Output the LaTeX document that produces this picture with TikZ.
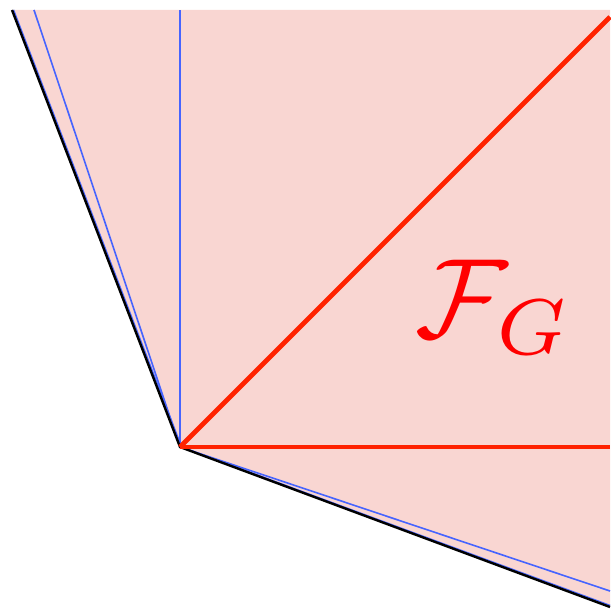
\documentclass[tikz,border=0pt]{standalone}
\usepackage{amsmath}
\usepackage{graphicx}
\definecolor{pinkfill}{RGB}{249,214,210}
\definecolor{redline}{RGB}{255,34,0}
\definecolor{blueline}{RGB}{70,100,255}
\tikzset{
  redray/.style={draw=redline, line width=4.8pt},
  blueray/.style={draw=blueline, line width=1.6pt},
  blackray/.style={draw=black, line width=2.4pt},
}
\begin{document}
\begin{tikzpicture}[x=1pt,y=-1pt]
\useasboundingbox (0,0) rectangle (610,615);
\coordinate (v) at (180,447);
\coordinate (tl) at (12,10);
\coordinate (tb) at (34,10);
\coordinate (tv) at (180,10);
\coordinate (tr) at (610,10);
\coordinate (rd) at (610,17);
\coordinate (rh) at (610,447);
\coordinate (rb) at (610,591);
\coordinate (br) at (610,607);
\fill[pinkfill] (tl) -- (v) -- (br) -- (tr) -- cycle;
\draw[blueray] (v) -- (tb);
\draw[blueray] (v) -- (tv);
\draw[blueray] (v) -- (rb);
\draw[blueray] ([xshift=1.5pt]tl) -- ([xshift=1.5pt]v) -- ([yshift=1.5pt]br);
\draw[blackray, line join=miter] (tl) -- (v) -- (br);
\draw[redray] (v) -- (rd);
\draw[redray] (v) -- (rh);
\node[text=red, inner sep=0pt] (lab) at (494,307) {\scalebox{11.3}{$\mathcal{F}_G$}};
\end{tikzpicture}
\end{document}
